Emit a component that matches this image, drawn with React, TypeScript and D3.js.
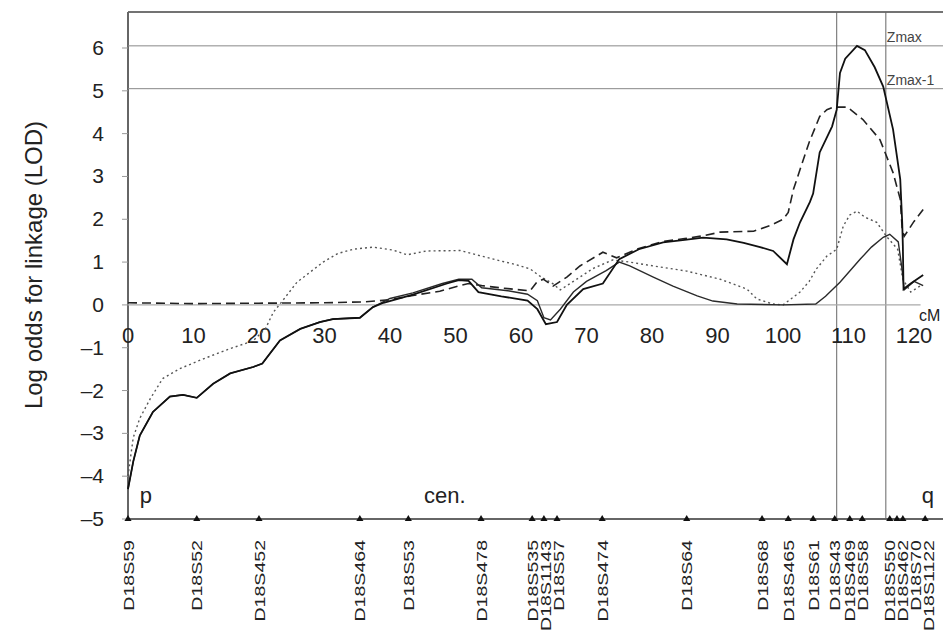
import React from 'react';
import * as d3 from 'd3';

type Pt = [number, number];

// x axis ticks (cM) and LOD ticks
const cmTicks = [0, 10, 20, 30, 40, 50, 60, 70, 80, 90, 100, 110, 120];
const lodTicks = [-5, -4, -3, -2, -1, 0, 1, 2, 3, 4, 5, 6];

// marker map along chromosome 18
const markerNames = [
  'D18S59', 'D18S52', 'D18S452', 'D18S464', 'D18S53', 'D18S478', 'D18S535',
  'D18S1143', 'D18S57', 'D18S474', 'D18S64', 'D18S68', 'D18S465', 'D18S61',
  'D18S43', 'D18S469', 'D18S58', 'D18S550', 'D18S462', 'D18S70', 'D18S1122',
];
const markerCm = [
  0, 10.5, 20, 35.4, 42.8, 53.9, 61.7, 63.5, 65.5, 72.4, 85.3, 96.8, 100.8, 104.6,
  107.9, 110.2, 112.1, 116.3, 117.4, 118.3, 121.7,
];

// reference lines
const zmax = 6.05;
const zmaxMinus1 = 5.05;
const supportInterval = [108.2, 115.7];

// solid curve with the highest peak
const solidMain: Pt[] = [
  [0, -4.3], [0.8, -3.66], [1.8, -3.05], [3.8, -2.5], [6.4, -2.14], [8.4, -2.1],
  [10.5, -2.17], [13, -1.84], [15.6, -1.6], [19.1, -1.45], [20.5, -1.37], [23.2, -0.83],
  [26.3, -0.56], [29.3, -0.4], [31.3, -0.33], [35.4, -0.3], [37.4, -0.05], [39, 0.05],
  [43.5, 0.24], [48.7, 0.5], [50.5, 0.58], [52, 0.56], [53.5, 0.3], [57, 0.2], [61, 0.1],
  [62.5, -0.1], [63.8, -0.45], [65.5, -0.4], [67, 0], [69.5, 0.37], [72.5, 0.5], [75, 1.07],
  [78, 1.3], [81.7, 1.46], [85, 1.52], [87.8, 1.57], [91.4, 1.53], [94, 1.45], [96.5, 1.35],
  [98.5, 1.26], [100.6, 0.95], [101.6, 1.53], [102.6, 1.93], [104.1, 2.4], [104.6, 2.6],
  [105.6, 3.56], [107.5, 4.17], [108.2, 4.56], [108.7, 5.42], [109.5, 5.75], [111.3, 6.05],
  [112.5, 5.95], [114, 5.55], [115.3, 5.1], [116.8, 4.1], [117.9, 2.93], [118.2, 1.93],
  [118.3, 1.37], [118.4, 0.37], [119.5, 0.5], [121.4, 0.7],
];

// second solid curve (rises only near qter)
const solidSecond: Pt[] = [
  [0, -4.3], [0.8, -3.66], [1.8, -3.05], [3.8, -2.5], [6.4, -2.14], [8.4, -2.1],
  [10.5, -2.17], [13, -1.84], [15.6, -1.6], [19.1, -1.45], [20.5, -1.37], [23.2, -0.83],
  [26.3, -0.56], [29.3, -0.4], [31.3, -0.33], [35.4, -0.3], [37.4, -0.05], [40, 0.15],
  [43.5, 0.28], [48, 0.5], [50.5, 0.6], [52.5, 0.6], [54, 0.4], [58, 0.33], [61, 0.25],
  [62.5, 0.1], [63.5, -0.3], [64.5, -0.35], [66, -0.1], [68, 0.3], [70, 0.55], [73, 0.8],
  [75, 1.0], [76.6, 0.91], [80.2, 0.65], [83.2, 0.44], [86.9, 0.21], [89.3, 0.09],
  [93, 0.02], [100, 0], [105, 0.02], [106.5, 0.2], [108.7, 0.53], [111.8, 1.07],
  [113.5, 1.35], [115.3, 1.58], [116.3, 1.65], [117.6, 1.47], [118.2, 0.8], [118.5, 0.35],
  [120, 0.55], [121.4, 0.45],
];

// long-dashed curve
const dashed: Pt[] = [
  [0, 0.05], [10, 0.03], [20, 0.04], [30, 0.05], [36, 0.07], [40, 0.12], [43.5, 0.22],
  [47.6, 0.32], [50.7, 0.45], [52, 0.5], [54, 0.45], [58, 0.38], [61.4, 0.33], [62.4, 0.53],
  [63.4, 0.6], [64.9, 0.44], [67, 0.65], [69, 0.91], [72.5, 1.23], [74.6, 1.1], [78, 1.32],
  [81.7, 1.48], [85, 1.55], [88, 1.62], [90.4, 1.7], [95.5, 1.72], [98, 1.85], [100, 2.0],
  [100.8, 2.16], [101.6, 2.7], [102.6, 3.16], [104, 3.8], [105.6, 4.4], [106.7, 4.56],
  [107.7, 4.62], [109.8, 4.62], [112.2, 4.33], [114.8, 3.86], [116.8, 3.09], [117.9, 2.47],
  [118.2, 1.77], [118.5, 1.6], [120, 1.95], [121.4, 2.23],
];

// dotted curve
const dotted: Pt[] = [
  [0, -4.0], [0.8, -3.1], [1.8, -2.65], [3.4, -2.19], [5.3, -1.72], [7.9, -1.49],
  [11.5, -1.26], [15.6, -1.02], [19.1, -0.84], [21, -0.55], [22.2, -0.17], [23.2, 0.02],
  [25.8, 0.53], [29.8, 1.0], [32, 1.2], [34.4, 1.3], [37.4, 1.35], [40.5, 1.28], [42.6, 1.17],
  [45.6, 1.26], [50.7, 1.27], [53.7, 1.15], [56.8, 1.03], [59, 0.95], [61.4, 0.84],
  [62.9, 0.67], [64.9, 0.49], [66, 0.35], [68, 0.55], [71, 0.85], [74, 1.05], [76.6, 1.0],
  [80.2, 0.91], [85.3, 0.79], [90.4, 0.6], [94.5, 0.37], [96, 0.14], [98.5, 0.02], [100, 0],
  [102.6, 0.3], [104, 0.55], [105.1, 0.84], [106.7, 1.14], [108.2, 1.3], [109.2, 1.84],
  [110.2, 2.1], [111.3, 2.19], [112.5, 2.05], [114.3, 1.93], [115.8, 1.6], [117.5, 1.3],
  [118.3, 0.6], [119.5, 0.3], [121, 0.45],
];

const W = 943;
const H = 636;
const font = 'Arial, "Liberation Sans", Helvetica, sans-serif';

export default function App() {
  const x = d3.scaleLinear().domain([0, 120]).range([128, 914]);
  const y = d3.scaleLinear().domain([-5, 6]).range([519, 48]);
  const left = x(0);
  const top = y(6.84);
  const bottom = y(-5);

  const line = d3.line<Pt>().x(d => x(d[0])).y(d => y(d[1])).curve(d3.curveLinear);

  // spread crowded marker labels so they do not overlap
  const labelX: number[] = [];
  markerCm.forEach((c, i) => {
    const px = x(c);
    labelX.push(i === 0 ? px : Math.max(px, labelX[i - 1] + 13));
  });

  const tri = d3.symbol().type(d3.symbolTriangle).size(22)() || '';

  return (
    <svg
      width={W}
      height={H}
      style={{ position: 'absolute', left: 0, top: 0, background: '#fff' }}
      fontFamily={font}
    >
      {/* frame */}
      <line x1={left} x2={W} y1={top} y2={top} stroke="#444" strokeWidth={1.5} />
      <line x1={left} x2={left} y1={top} y2={bottom} stroke="#666" strokeWidth={2} />
      <line x1={left} x2={W} y1={bottom} y2={bottom} stroke="#333" strokeWidth={1.5} />

      {/* Zmax lines */}
      <line x1={left} x2={W} y1={y(zmax)} y2={y(zmax)} stroke="#888" strokeWidth={1} />
      <line x1={left} x2={W} y1={y(zmaxMinus1)} y2={y(zmaxMinus1)} stroke="#888" strokeWidth={1} />
      <text x={x(supportInterval[1]) + 1} y={y(zmax) - 4} fontSize={14} fill="#444">Zmax</text>
      <text x={x(supportInterval[1]) + 1} y={y(zmaxMinus1) - 4} fontSize={14} fill="#444">Zmax-1</text>

      {/* support interval */}
      {supportInterval.map(c => (
        <line key={c} x1={x(c)} x2={x(c)} y1={top} y2={bottom} stroke="#666" strokeWidth={1} />
      ))}

      {/* zero line */}
      <line x1={left} x2={x(121)} y1={y(0)} y2={y(0)} stroke="#aaa" strokeWidth={1.3} />

      {/* y ticks */}
      {lodTicks.map(t => (
        <g key={t}>
          <line x1={left - 6} x2={left} y1={y(t)} y2={y(t)} stroke="#999" strokeWidth={1} />
          <text x={104} y={y(t) + 7} fontSize={21} textAnchor="end" fill="#222">
            {t < 0 ? `\u2013${-t}` : t}
          </text>
        </g>
      ))}

      {/* x tick labels along the zero line */}
      {cmTicks.map(t => (
        <text key={t} x={x(t)} y={y(0) + 38} fontSize={22} textAnchor="middle" fill="#222">
          {t}
        </text>
      ))}
      <text x={x(120) + 5} y={y(0) + 16} fontSize={16} fill="#222">cM</text>

      {/* axis title */}
      <text
        transform={`translate(42, 265) rotate(-90)`}
        fontSize={24}
        textAnchor="middle"
        fill="#222"
      >
        Log odds for linkage (LOD)
      </text>

      {/* curves */}
      <path d={line(dotted) || ''} fill="none" stroke="#555" strokeWidth={1.4} strokeDasharray="2,3" />
      <path d={line(dashed) || ''} fill="none" stroke="#222" strokeWidth={1.6} strokeDasharray="9,5" />
      <path d={line(solidSecond) || ''} fill="none" stroke="#2a2a2a" strokeWidth={1.4} />
      <path d={line(solidMain) || ''} fill="none" stroke="#111" strokeWidth={1.8} />

      {/* chromosome arm labels */}
      <text x={x(1.8)} y={503} fontSize={22} fill="#222">p</text>
      <text x={x(45.2)} y={503} fontSize={22} fill="#222">cen.</text>
      <text x={x(121.2)} y={503} fontSize={22} fill="#222">q</text>

      {/* markers */}
      {markerCm.map((c, i) => (
        <path key={markerNames[i]} d={tri} transform={`translate(${x(c)}, ${bottom})`} fill="#111" />
      ))}
      {markerNames.map((name, i) => (
        <text
          key={name}
          transform={`translate(${labelX[i] + 5.5}, 540) rotate(-90) scale(1.15, 0.9)`}
          fontSize={17}
          textAnchor="end"
          fill="#222"
        >
          {name}
        </text>
      ))}
    </svg>
  );
}
